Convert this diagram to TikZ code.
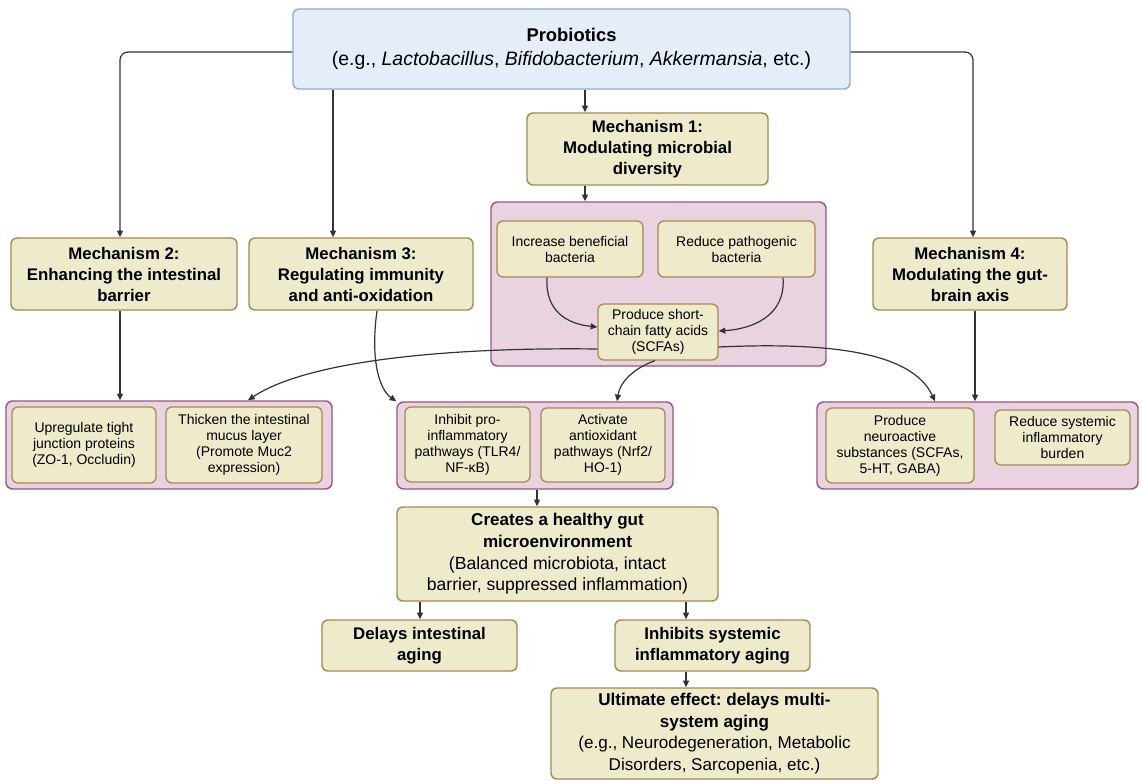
\documentclass[tikz,border=0pt]{standalone}
\usepackage{fontspec}
\setmainfont{Liberation Sans}
\usetikzlibrary{arrows.meta}
\definecolor{blueFill}{HTML}{E4EDF8}
\definecolor{blueDraw}{HTML}{8EAADB}
\definecolor{beigeFill}{HTML}{EDEBCB}
\definecolor{beigeDraw}{HTML}{A48A4F}
\definecolor{pinkFill}{HTML}{EAD3E0}
\definecolor{pinkDraw}{HTML}{98587E}
\definecolor{lineCol}{HTML}{333333}
\newcommand{\bx}[7]{\node[#1, minimum width={(#5-#3)*0.75pt}, minimum height={(#6-#4)*0.75pt}] (#2) at ({(#3+#5)/2},{(#4+#6)/2}) {#7};}
\newcommand{\regsz}{\fontsize{13.2pt}{16.2pt}\selectfont}
\tikzset{
  base/.style={rectangle, rounded corners=4.5pt, align=center, inner sep=0pt, text=black},
  probbox/.style={base, fill=blueFill, draw=blueDraw, line width=1.1pt, font=\fontsize{13.8pt}{18pt}\selectfont},
  mechbox/.style={base, fill=beigeFill, draw=beigeDraw, line width=1.1pt, font=\fontsize{12.6pt}{15.75pt}\selectfont},
  bigbox/.style={base, fill=beigeFill, draw=beigeDraw, line width=1.1pt, font=\fontsize{12.8pt}{16.2pt}\selectfont},
  smallbox/.style={base, fill=beigeFill, draw=beigeDraw, line width=1pt, font=\fontsize{10.5pt}{12pt}\selectfont},
  pinkbox/.style={rectangle, rounded corners=5pt, fill=pinkFill, draw=pinkDraw, line width=1.1pt},
  arr/.style={draw=lineCol, line width=0.9pt, -{Triangle[length=5pt,width=4.5pt]}},
  elbow/.style={arr, rounded corners=6pt},
}
\frenchspacing
\begin{document}
\begin{tikzpicture}[x=0.75pt, y=-0.75pt]
\useasboundingbox (0,0) rectangle (1143,781);

% pink containers
\bx{pinkbox}{p1}{491}{202}{826}{366}{}
\bx{pinkbox}{pl}{6}{401}{332}{489}{}
\bx{pinkbox}{pm}{397}{402}{673}{489}{}
\bx{pinkbox}{pr}{817}{402}{1138}{489}{}

% top
\bx{probbox}{prob}{293}{9}{850}{89}{\textbf{Probiotics}\\{\fontsize{14.6pt}{18pt}\selectfont (e.g., \textit{Lactobacillus}, \textit{Bifidobacterium}, \textit{Akkermansia}, etc.)}}

% mechanisms
\bx{mechbox}{m1}{527}{113}{768}{185}{\textbf{Mechanism 1:}\\\textbf{Modulating microbial}\\\textbf{diversity}}
\bx{mechbox}{m2}{11}{238}{237}{310}{\textbf{Mechanism 2:}\\\textbf{Enhancing the intestinal}\\\textbf{barrier}}
\bx{mechbox}{m3}{249}{238}{473}{310}{\textbf{Mechanism 3:}\\\textbf{Regulating immunity}\\\textbf{and anti-oxidation}}
\bx{mechbox}{m4}{873}{238}{1067}{310}{\textbf{Mechanism 4:}\\\textbf{Modulating the gut-}\\\textbf{brain axis}}

% inside pink 1
\bx{smallbox}{inc}{497}{221}{643}{277}{Increase beneficial\\bacteria}
\bx{smallbox}{red}{658}{221}{815}{277}{Reduce pathogenic\\bacteria}
\bx{smallbox}{sc}{598}{304}{718}{360}{Produce short-\\chain fatty acids\\(SCFAs)}

% inside pink left
\bx{smallbox}{up}{12}{407}{156}{483}{Upregulate tight\\junction proteins\\(ZO-1, Occludin)}
\bx{smallbox}{th}{166}{407}{322}{483}{Thicken the intestinal\\mucus layer\\(Promote Muc2\\expression)}

% inside pink middle
\bx{smallbox}{ip}{405}{407}{530}{482}{Inhibit pro-\\inflammatory\\pathways (TLR4/\\NF-κB)}
\bx{smallbox}{ac}{541}{408}{665}{482}{Activate\\antioxidant\\pathways (Nrf2/\\HO-1)}

% inside pink right
\bx{smallbox}{pn}{826}{408}{974}{483}{Produce\\neuroactive\\substances (SCFAs,\\5-HT, GABA)}
\bx{smallbox}{rs}{995}{410}{1130}{465}{Reduce systemic\\inflammatory\\burden}

% outcomes
\bx{bigbox}{cr}{397}{507}{718}{601}{\textbf{Creates a healthy gut}\\\textbf{microenvironment}\\{\regsz (Balanced microbiota, intact}\\{\regsz barrier, suppressed inflammation)}}
\bx{mechbox}{dl}{322}{620}{517}{671}{\textbf{Delays intestinal}\\\textbf{aging}}
\bx{mechbox}{ih}{615}{620}{810}{671}{\textbf{Inhibits systemic}\\\textbf{inflammatory aging}}
\bx{bigbox}{ul}{551}{688}{878}{779}{\textbf{Ultimate effect: delays multi-}\\\textbf{system aging}\\(e.g., Neurodegeneration, Metabolic\\Disorders, Sarcopenia, etc.)}

% connectors from probiotics
\draw[elbow] (prob.west |- 0,52) -| (m2.north -| 120,0);
\draw[elbow] (prob.east |- 0,52) -| (m4.north -| 973,0);
\draw[arr] (prob.south -| 333,0) -- (m3.north -| 333,0);
\draw[arr] (prob.south -| 585,0) -- (m1.north -| 585,0);
\draw[arr] (m1.south -| 585,0) -- (p1.north -| 585,0);

% inside mechanism 1
\draw[arr] (inc.south -| 547,0) .. controls (545,312) and (568,324) .. (sc.west |- 0,327);
\draw[arr] (red.south -| 783,0) .. controls (786,316) and (752,329) .. (sc.east |- 0,331);

% from SCFAs
\draw[arr] (sc.west |- 0,349) .. controls (440,347) and (305,362) .. (pl.north -| 248,0);
\draw[arr] (sc.east |- 0,347) .. controls (830,342) and (912,352) .. (pr.north -| 935,0);
\draw[arr] (sc.south -| 655,0) .. controls (634,368) and (620,382) .. (pm.north -| 617,0);

% mechanisms down
\draw[arr] (m2.south -| 120,0) -- (pl.north -| 120,0);
\draw[arr] (m3.south -| 377,0) .. controls (370,362) and (380,390) .. (pm.north west);
\draw[arr] (m4.south -| 975,0) -- (pr.north -| 975,0);

% outcomes
\draw[arr] (pm.south -| 537,0) -- (cr.north -| 537,0);
\draw[arr] (cr.south -| 420,0) -- (dl.north -| 420,0);
\draw[arr] (cr.south -| 686,0) -- (ih.north -| 686,0);
\draw[arr] (ih.south -| 686,0) -- (ul.north -| 686,0);
\end{tikzpicture}
\end{document}
